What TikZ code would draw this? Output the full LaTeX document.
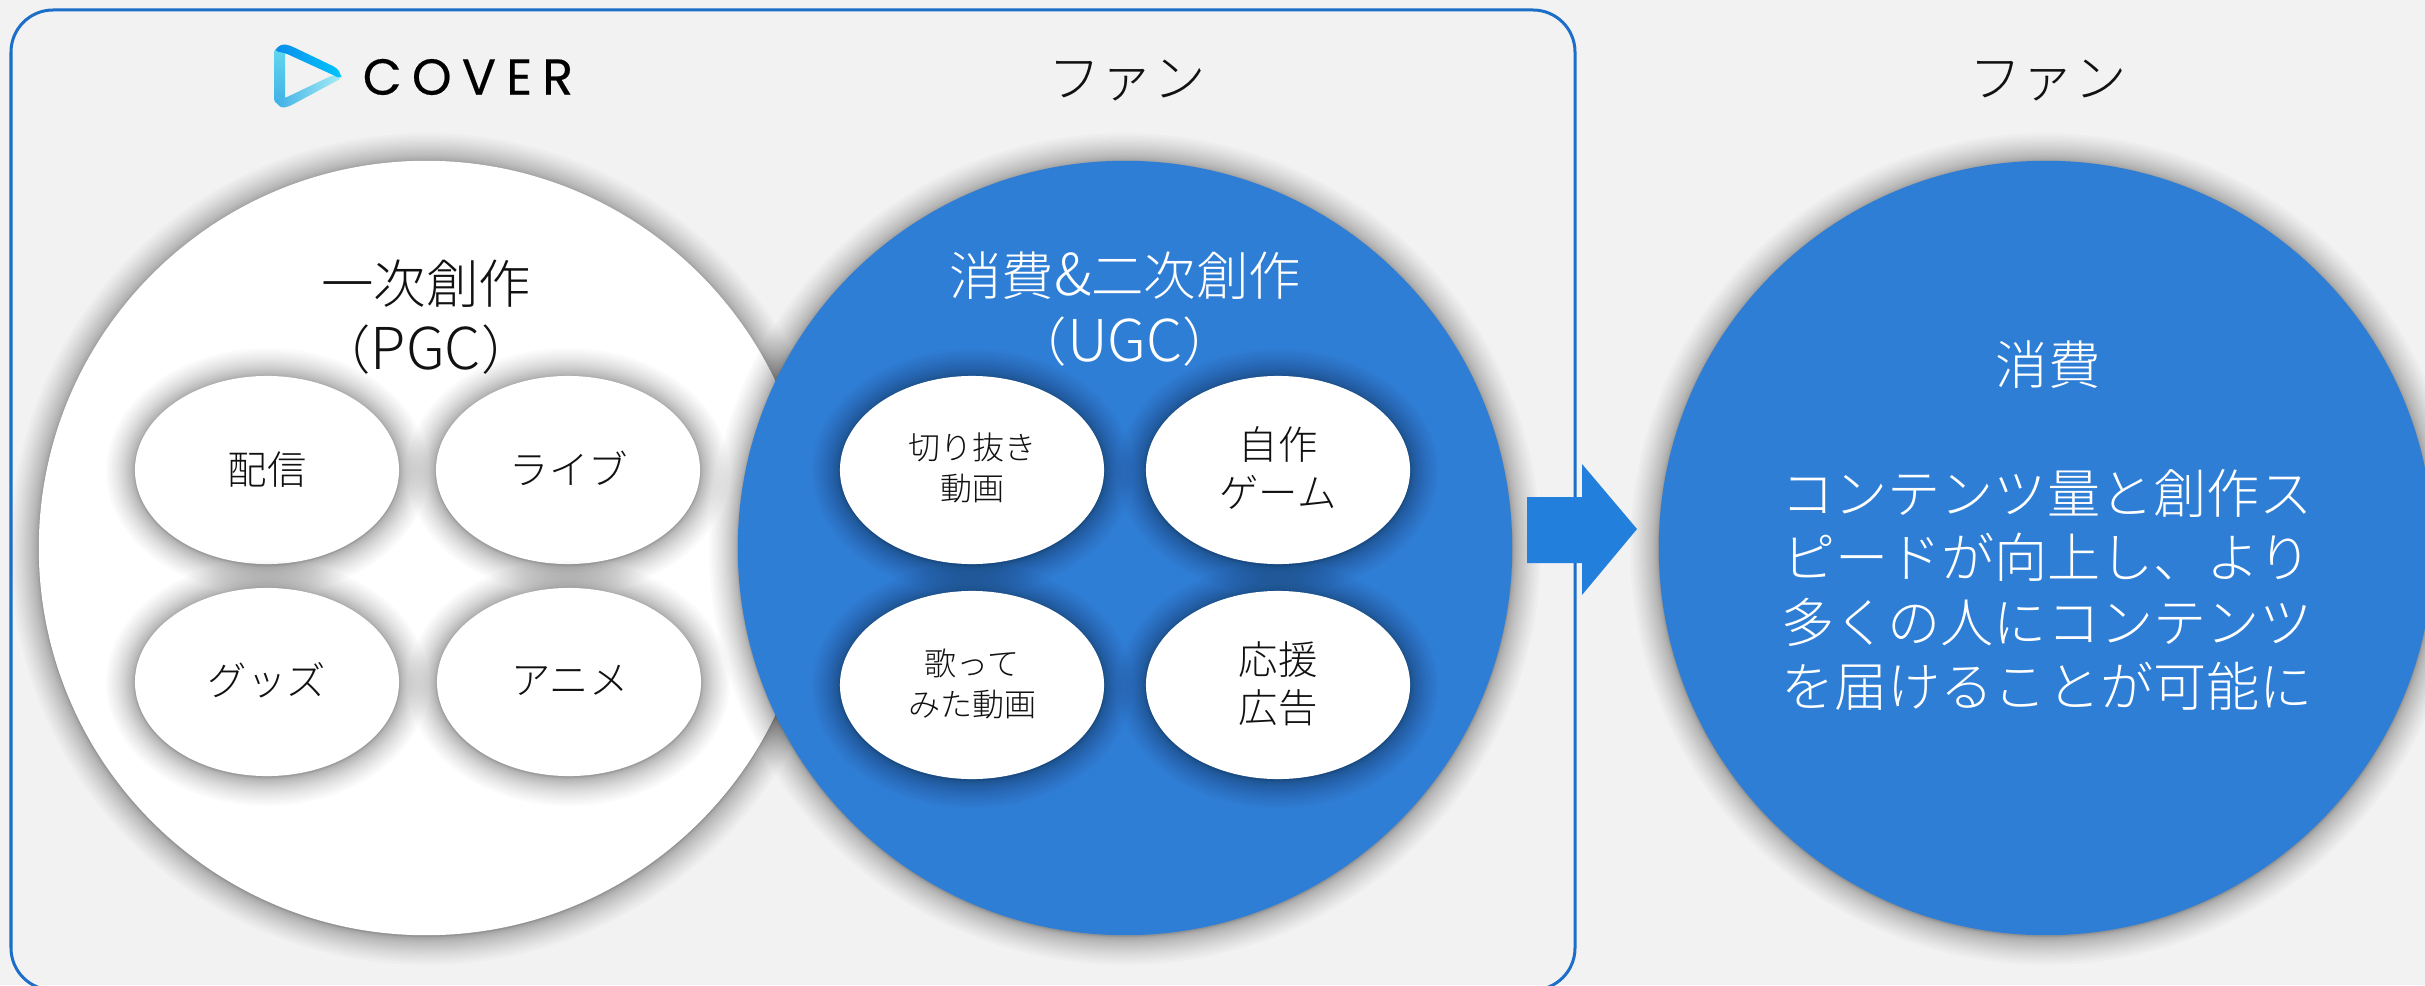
\documentclass[tikz,border=0pt]{standalone}
\usepackage{fontspec}
\setmainfont{Noto Sans CJK JP}[UprightFont=* Light]
\newfontfamily\logofont[LetterSpace=20,FakeBold=0.3]{Poppins}
\lineskiplimit=-30pt
\usetikzlibrary{arrows.meta,shapes.geometric}
\definecolor{pagebg}{HTML}{F2F2F2}
\definecolor{framecol}{HTML}{1C6FC8}
\definecolor{bluefill}{HTML}{2F7ED6}
\definecolor{arrowcol}{HTML}{2280DC}
\definecolor{inktext}{HTML}{111111}
\newcommand{\softshadow}[4]{% x y rx ry
  \foreach \k in {1,...,22}{
    \pgfmathsetmacro{\grow}{31*((22-\k)/22)^2+0.5}
    \fill[black,opacity=0.019] (#1,#2+1) ellipse ({#3+\grow} and {#4+\grow});
  }
}
\newcommand{\biglatin}[1]{{\fontsize{16.4pt}{18.7pt}\selectfont #1}}
\tikzset{
  x=0.01cm,y=-0.01cm,
  bigdisc/.style={circle,minimum size=7.74cm,inner sep=0pt,outer sep=0pt},
  smalldisc/.style={ellipse,minimum width=2.64cm,minimum height=1.88cm,inner sep=0pt,fill=white},
  lab/.style={align=center,text=inktext,inner sep=0pt,font=\fontsize{11.2pt}{13.6pt}\selectfont},
  smalllab/.style={align=center,text=inktext,inner sep=0pt,font=\fontsize{9.1pt}{11.7pt}\selectfont},
  head/.style={align=center,inner sep=0pt,font=\fontsize{14.9pt}{18.7pt}\selectfont},
}
\begin{document}
\begin{tikzpicture}
\useasboundingbox (0,0) rectangle (2425,985);
\clip (0,0) rectangle (2425,985);
\fill[pagebg] (0,0) rectangle (2425,985);
\draw[framecol,line width=0.03cm,rounded corners=0.42cm] (11,10) rectangle (1575,990);
% big discs
\softshadow{426}{548}{387}{387}
\node[bigdisc,fill=white] (pgc) at (426,548) {};
\softshadow{1125}{548}{387}{387}
\node[bigdisc,fill=bluefill] (ugc) at (1125,548) {};
\softshadow{2046}{548}{387}{387}
\node[bigdisc,fill=bluefill] (cons) at (2046,548) {};
% small discs
\softshadow{267}{470}{132}{94}
\node[smalldisc] (a1) at (267,470) {};
\softshadow{568}{470}{132}{94}
\node[smalldisc] (a2) at (568,470) {};
\softshadow{267}{682}{132}{94}
\node[smalldisc] (a3) at (267,682) {};
\softshadow{569}{682}{132}{94}
\node[smalldisc] (a4) at (569,682) {};
\softshadow{972}{470}{132}{94}
\node[smalldisc] (b1) at (972,470) {};
\softshadow{1278}{470}{132}{94}
\node[smalldisc] (b2) at (1278,470) {};
\softshadow{972}{685}{132}{94}
\node[smalldisc] (b3) at (972,685) {};
\softshadow{1278}{685}{132}{94}
\node[smalldisc] (b4) at (1278,685) {};
% labels
\node[lab] at (267,470) {配信};
\node[lab] at (569,468) {ライブ};
\node[lab] at (267,680) {グッズ};
\node[lab] at (570,680) {アニメ};
\node[smalllab] at (972,468) {切り抜き\\動画};
\node[lab] at (1278,468) {自作\\ゲーム};
\node[smalllab] at (972,684) {歌って\\みた動画};
\node[lab] at (1278,684) {応援\\広告};
\node[head,text=inktext] at (426,317) {一次創作\\（\biglatin{PGC}）};
\node[head,text=white] at (1125,309) {消費{\fontsize{16.4pt}{18.7pt}\selectfont\&}二次創作\\（\biglatin{UGC}）};
\node[head,text=inktext] at (1127,81) {ファン};
\node[head,text=inktext] at (2048,81) {ファン};
\node[head,text=white] at (2048,365) {消費};
\node[head,text=white,font=\fontsize{15.1pt}{18.3pt}\selectfont] at (2047,590) {コンテンツ量と創作ス\\ピードが向上し、より\\多くの人にコンテンツ\\を届けることが可能に};
% arrow
\fill[arrowcol] (1527,497) -- (1582,497) -- (1582,464) -- (1637,529) -- (1582,595) -- (1582,563) -- (1527,563) -- cycle;
% logo
\definecolor{logoa}{HTML}{62D8EE}
\definecolor{logob}{HTML}{3FB0E6}
\definecolor{logoc}{HTML}{A6EEF5}
\definecolor{logod}{HTML}{0A8CEB}
\definecolor{logoe}{HTML}{00C4FA}
\shade[top color=logoa,bottom color=logob,rounded corners=0.04cm] (274,48) -- (285,48) -- (285,106) -- (274,103) -- cycle;
\shade[left color=logob,right color=logoc,rounded corners=0.04cm] (275,100) -- (285,98) -- (333,75) -- (342,78) -- (288,107) -- (280,108) -- cycle;
\shade[left color=logod,right color=logoe,rounded corners=0.04cm] (274,51) -- (281,44) -- (289,45) -- (337,68) -- (341,74) -- (341,79) -- (333,75) -- (285,53) -- cycle;
\node[text=black,inner sep=0pt,anchor=west,font=\fontsize{14.4pt}{14.4pt}\logofont] at (362,77) {COVER};
\end{tikzpicture}
\end{document}
